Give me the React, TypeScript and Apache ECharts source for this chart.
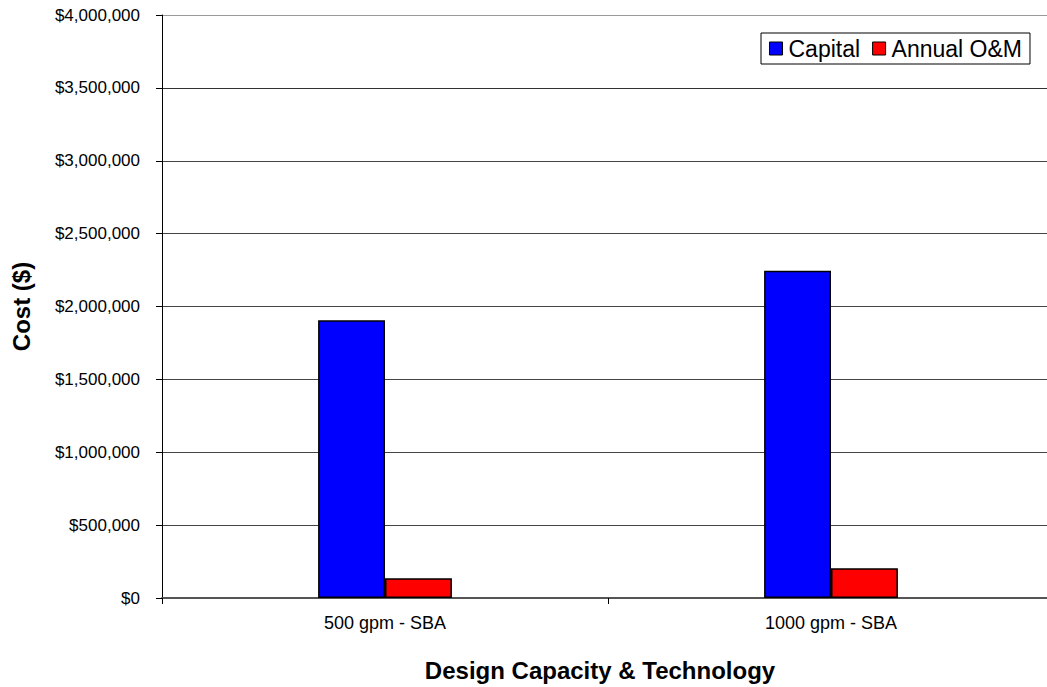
import React, { useEffect, useRef } from "react";
import * as echarts from "echarts";

const categories = ["500 gpm - SBA", "1000 gpm - SBA"];
const seriesNames = ["Capital", "Annual O&M"];
const capital = [1905000, 2245000];
const annualOM = [135000, 204000];
const yTicks = { min: 0, max: 4000000, interval: 500000 };

export default function App() {
  const ref = useRef<HTMLDivElement>(null);
  useEffect(() => {
    document.body.style.margin = "0";
    document.body.style.overflow = "hidden";
    const chart = echarts.init(ref.current!, null, { renderer: "svg" });
    const font = "'Liberation Sans', Arial, sans-serif";
    chart.setOption({
      animation: false,
      backgroundColor: "#ffffff",
      textStyle: { fontFamily: font },
      grid: { left: 162, top: 15, bottom: 88.5, right: 6, containLabel: false },
      legend: {
        data: seriesNames,
        left: 761,
        top: 33,
        orient: "horizontal",
        icon: "rect",
        itemWidth: 13,
        itemHeight: 13,
        itemGap: 12,
        padding: [4, 8],
        borderColor: "#000",
        borderWidth: 1,
        backgroundColor: "#fff",
        textStyle: { fontSize: 23, color: "#000", fontFamily: font, padding: [0, 0, 0, 1] },
        itemStyle: { borderColor: "#000", borderWidth: 1 },
      },
      xAxis: {
        type: "category",
        data: categories,
        name: "Design Capacity & Technology",
        nameLocation: "middle",
        nameGap: 60,
        nameTextStyle: {
          fontSize: 24,
          fontWeight: "bold",
          color: "#000",
          fontFamily: font,
          padding: [0, 16, 0, 0],
        },
        axisLine: { show: true, lineStyle: { color: "#555", width: 2 } },
        axisTick: { show: true, length: 6, lineStyle: { color: "#000" } },
        axisLabel: { fontSize: 18, color: "#000", margin: 16, fontFamily: font },
        splitLine: { show: false },
      },
      yAxis: {
        type: "value",
        min: yTicks.min,
        max: yTicks.max,
        interval: yTicks.interval,
        name: "Cost ($)",
        nameLocation: "middle",
        nameGap: 129,
        nameTextStyle: { fontSize: 24, fontWeight: "bold", color: "#000", fontFamily: font },
        axisLine: { show: true, lineStyle: { color: "#000", width: 1 } },
        axisTick: { show: true, length: 6, lineStyle: { color: "#000" } },
        axisLabel: {
          fontSize: 17,
          color: "#000",
          margin: 22,
          fontFamily: font,
          formatter: (v: number) => "$" + v.toLocaleString("en-US"),
        },
        splitLine: {
          show: true,
          lineStyle: {
            color: ["#555", "#444", "#444", "#444", "#444", "#444", "#444", "#333", "#999"],
            width: 1,
          },
        },
      },
      series: [
        {
          name: seriesNames[0],
          type: "bar",
          data: capital,
          barGap: "0%",
          barCategoryGap: "70%",
          itemStyle: { color: "#0000FF", borderColor: "#000", borderWidth: 1.5 },
        },
        {
          name: seriesNames[1],
          type: "bar",
          data: annualOM,
          barGap: "0%",
          barCategoryGap: "70%",
          itemStyle: { color: "#FF0000", borderColor: "#000", borderWidth: 1.5 },
        },
      ],
    });
    return () => chart.dispose();
  }, []);
  return (
    <div
      ref={ref}
      style={{ position: "fixed", left: 0, top: 0, width: 1060, height: 687, background: "#fff" }}
    />
  );
}
